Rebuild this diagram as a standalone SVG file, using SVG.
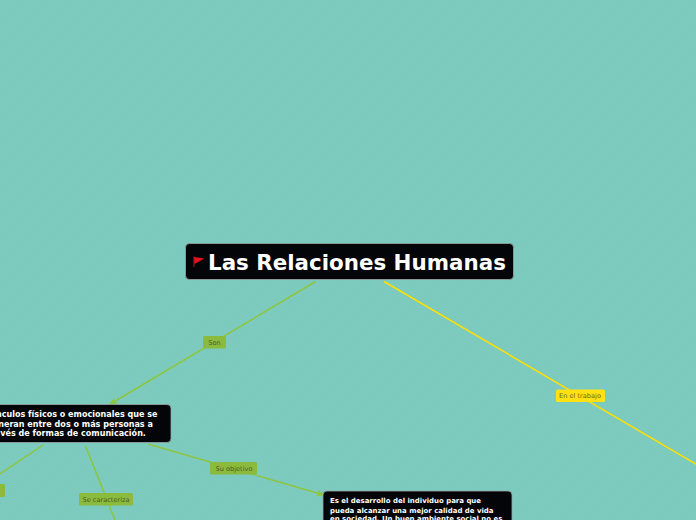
<svg xmlns="http://www.w3.org/2000/svg" width="696" height="520" viewBox="0 0 696 520">
<style>
.c{fill:none;stroke-width:1.5}
.g{stroke:#8cc63f}
.y{stroke:#ffe000}
.n{fill:#040508;stroke:#9aa5a5;stroke-width:.8}
.t{font-family:"DejaVu Sans",sans-serif;font-weight:700;fill:#fff;font-size:8.05px}
.s{font-size:6.96px}
.l{font-family:"DejaVu Sans",sans-serif;font-size:6.6px;fill:#4b5a2a;text-anchor:middle}
.lb{fill:#8abb3c}
</style>
<defs>
<pattern id="bg" width="3" height="3" patternUnits="userSpaceOnUse"><rect width="3" height="3" fill="#7ecbbf"/><path d="M-1 1L1 -1M0 3L3 0M2 4L4 2" stroke="#78c6ba" stroke-width=".7"/></pattern>
<marker id="ag" viewBox="0 0 8 8" refX="7.500" refY="4" markerWidth="8" markerHeight="8" orient="auto" markerUnits="userSpaceOnUse"><path d="M0 .5L8 4L0 7.500L2 4z" fill="#8cc63f"/></marker>
</defs>
<rect width="696" height="520" fill="url(#bg)"/>
<g id="connectors">
<path class="c g" d="M315.500 281.500L109.500 404.500" marker-end="url(#ag)"/>
<path class="c y" d="M384 281.500L696 464"/>
<path class="c g" d="M148 444L324 495" marker-end="url(#ag)"/>
<path class="c g" d="M85.500 446L115 520"/>
<path class="c g" d="M43 445L0 474"/>
</g>
<g id="label-son"><rect class="lb" x="203" y="336" width="23" height="12.500" rx="1.500"/><text class="l" x="214.500" y="344.500">Son</text></g>
<g id="label-trabajo"><rect x="556" y="389.500" width="49" height="12.500" rx="1.500" fill="#ffe012"/><text class="l" x="580" y="398" style="fill:#6b6a20">En el trabajo</text></g>
<g id="label-objetivo"><rect class="lb" x="210" y="462" width="47" height="12.500" rx="1.500"/><text class="l" x="234" y="471">Su objetivo</text></g>
<g id="label-caracteriza"><rect class="lb" x="79" y="493" width="54" height="12.500" rx="1.500"/><text class="l" x="106" y="502">Se caracteriza</text></g>
<g id="label-left"><rect class="lb" x="-20" y="484" width="25" height="13" rx="1.500"/></g>
<g id="root"><rect class="n" x="185.500" y="243.500" width="328" height="36" rx="4"/><path d="M193 256.500H195V267H193z" fill="#5a1014"/><path d="M194 257L204.500 258.500L194.500 264z" fill="#e8101c"/><text class="t" x="208" y="270" style="font-size:21.4px">Las Relaciones Humanas</text></g>
<g id="node-vinculos"><rect class="n" x="-60" y="404.500" width="231" height="38" rx="4"/><text class="t" x="-13" y="417">Vínculos físicos o emocionales que se</text><text class="t" x="-13" y="427">generan entre dos o más personas a</text><text class="t" x="-13" y="436">través de formas de comunicación.</text></g>
<g id="node-objetivo"><rect class="n" x="323" y="491" width="189" height="40" rx="4"/><text class="t s" x="330" y="503">Es el desarrollo del individuo para que</text><text class="t s" x="330" y="512.500">pueda alcanzar una mejor calidad de vida</text><text class="t s" x="330" y="521">en sociedad. Un buen ambiente social no es</text></g>
</svg>
